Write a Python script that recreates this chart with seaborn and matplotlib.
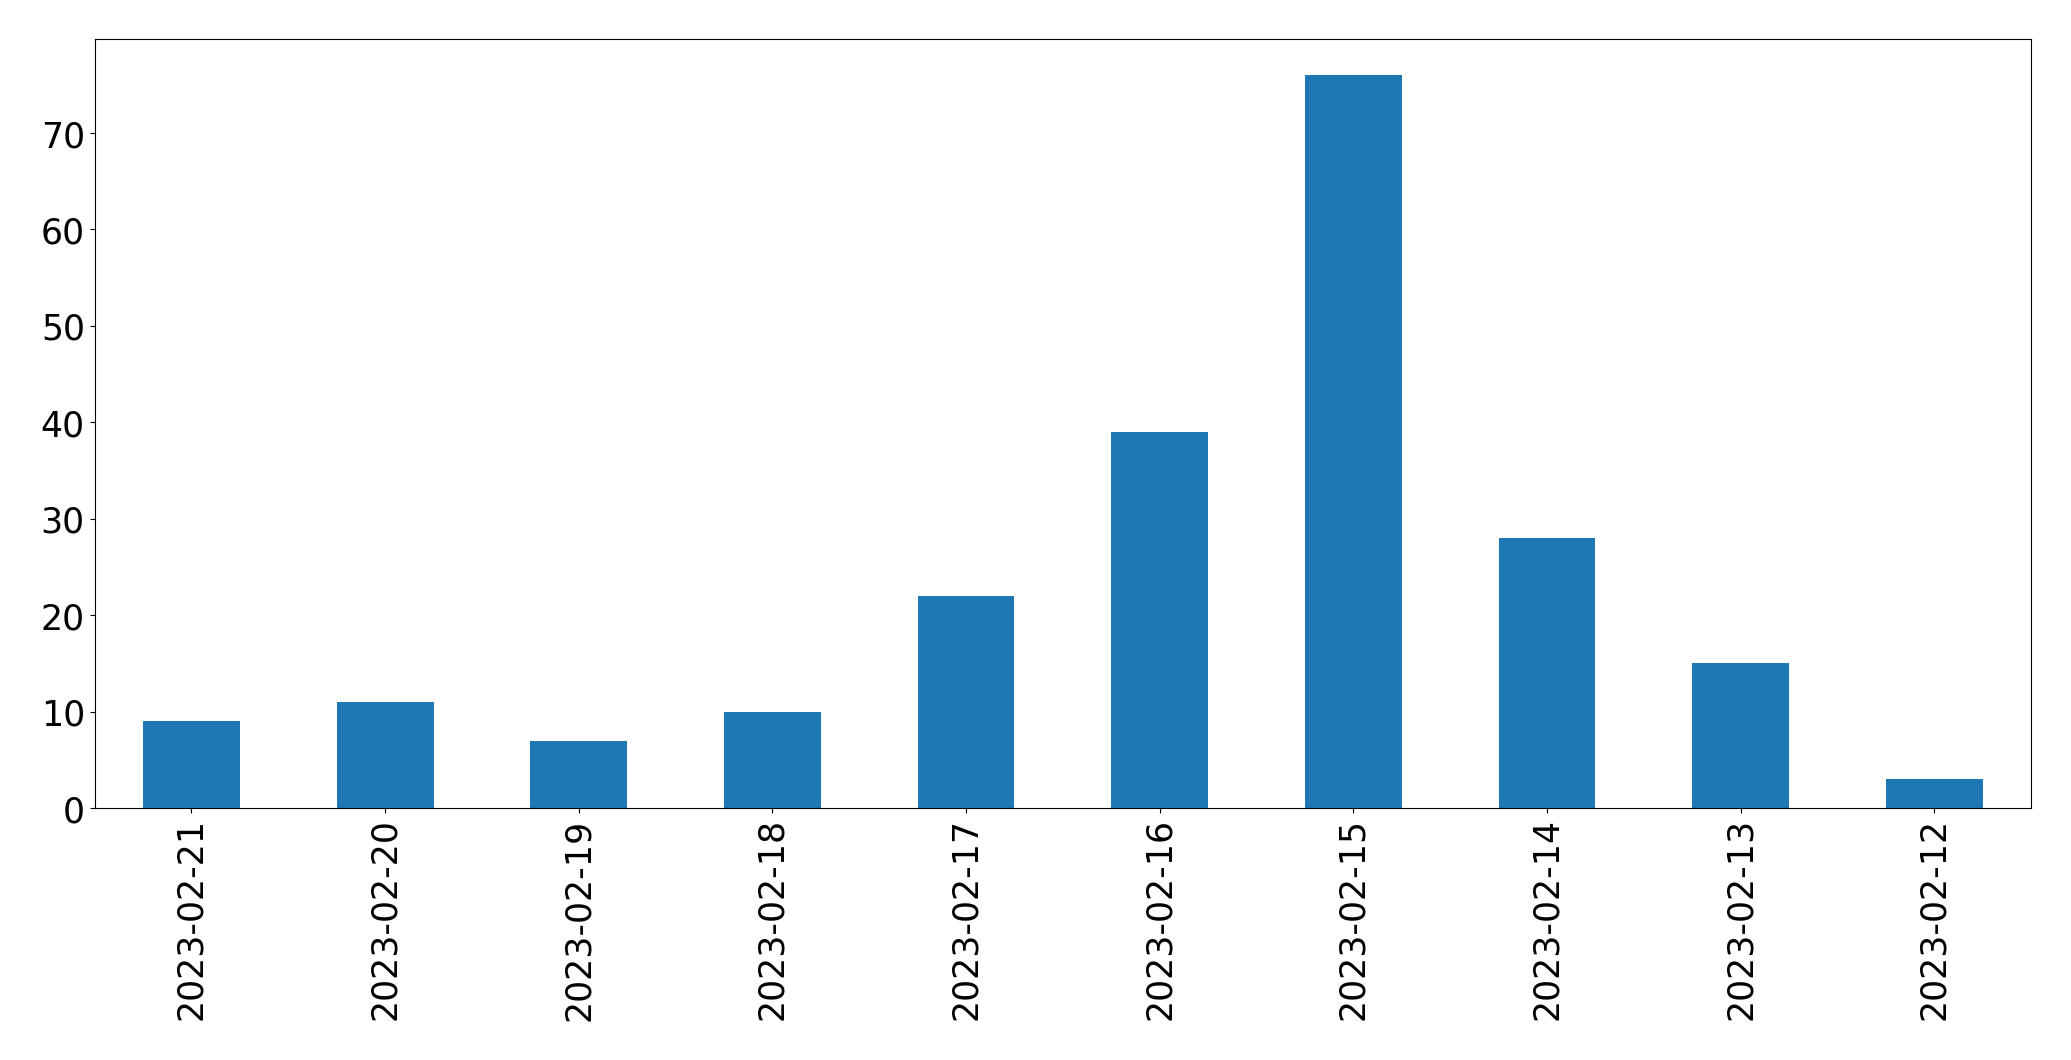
import matplotlib
matplotlib.use("Agg")
import matplotlib.pyplot as plt
import seaborn as sns
import pandas as pd

dates = ["2023-02-21", "2023-02-20", "2023-02-19", "2023-02-18", "2023-02-17",
         "2023-02-16", "2023-02-15", "2023-02-14", "2023-02-13", "2023-02-12"]
counts = [9, 11, 7, 10, 22, 39, 76, 28, 15, 3]

df = pd.DataFrame({"date": dates, "count": counts})

plt.rcParams['font.family'] = ['DejaVu Sans']

fig = plt.figure(figsize=(20.71, 10.605), dpi=100)
ax = fig.add_axes([0.0457, 0.2375, 0.935, 0.7257])
sns.barplot(data=df, x="date", y="count", order=dates, color="#1f77b4",
            saturation=1, width=0.5, linewidth=0, ax=ax)
ax.set_xlim(-0.5, len(dates) - 0.5)
ax.set_ylim(0, max(counts) * 1.05)
ax.set_xlabel("")
ax.set_ylabel("")
ax.tick_params(axis="both", labelsize=25, length=3.5, width=0.8,
               color="black", labelcolor="black")
ax.tick_params(axis="x", labelrotation=90)
for s in ax.spines.values():
    s.set_visible(True)
    s.set_color("black")
    s.set_linewidth(0.8)
fig.savefig("out.png", dpi=100, facecolor="white")
